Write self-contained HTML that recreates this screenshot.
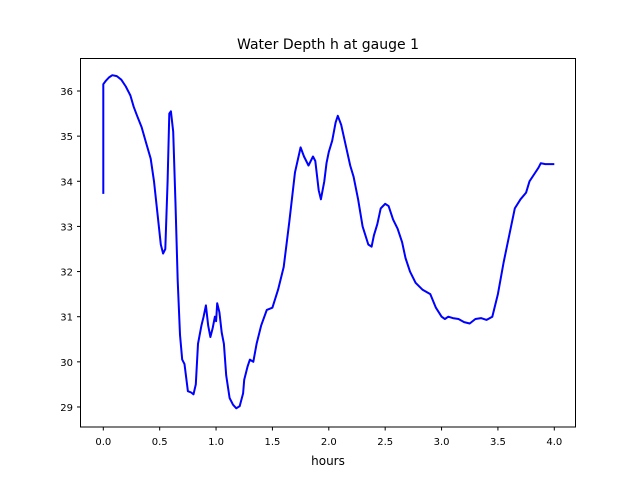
<!DOCTYPE html>
<html><head><meta charset="utf-8"><style>
body{margin:0;background:#fff}
svg{display:block;font-family:"DejaVu Sans","Liberation Sans",sans-serif}
</style></head><body>
<svg id="chart" width="640" height="480">
<rect x="0" y="0" width="640" height="480" fill="#fff"/>
<text x="328" y="49" text-anchor="middle" font-size="14">Water Depth h at gauge 1</text>
<g id="plot"></g>
<rect x="80.5" y="58.5" width="495" height="368.5" fill="none" stroke="#000" stroke-width="1"/>
<text x="328" y="465" text-anchor="middle" font-size="12">hours</text>
</svg>
<script>
const hours=[0,0,0.02,0.05,0.08,0.12,0.16,0.2,0.24,0.27,0.3,0.34,0.38,0.42,0.45,0.48,0.51,0.53,0.55,0.57,0.585,0.6,0.62,0.64,0.66,0.68,0.70,0.72,0.75,0.78,0.80,0.82,0.84,0.87,0.89,0.91,0.93,0.95,0.97,0.99,1.0,1.01,1.03,1.05,1.07,1.09,1.12,1.15,1.18,1.21,1.24,1.25,1.28,1.30,1.33,1.36,1.4,1.45,1.5,1.55,1.6,1.65,1.7,1.75,1.78,1.82,1.86,1.88,1.91,1.93,1.96,1.98,2.0,2.03,2.06,2.08,2.11,2.15,2.19,2.22,2.26,2.3,2.35,2.38,2.4,2.43,2.46,2.5,2.53,2.57,2.61,2.65,2.68,2.72,2.77,2.83,2.9,2.95,3.0,3.03,3.06,3.1,3.15,3.2,3.25,3.3,3.35,3.4,3.45,3.5,3.55,3.6,3.65,3.7,3.75,3.78,3.82,3.86,3.88,3.92,3.96,4.0];
const depth=[33.72,36.15,36.22,36.3,36.35,36.33,36.25,36.1,35.9,35.65,35.45,35.2,34.85,34.5,34.0,33.3,32.6,32.4,32.5,34.0,35.5,35.55,35.1,33.5,31.8,30.6,30.05,29.95,29.35,29.32,29.28,29.5,30.4,30.8,31.0,31.25,30.8,30.55,30.75,31.0,30.9,31.3,31.1,30.65,30.4,29.7,29.2,29.05,28.97,29.02,29.3,29.6,29.9,30.05,30.0,30.4,30.8,31.15,31.2,31.6,32.1,33.1,34.2,34.75,34.55,34.35,34.55,34.45,33.8,33.6,34.0,34.4,34.65,34.9,35.3,35.45,35.25,34.8,34.35,34.1,33.6,33.0,32.6,32.55,32.8,33.05,33.4,33.5,33.45,33.15,32.95,32.65,32.3,32.0,31.75,31.6,31.5,31.2,31.0,30.95,31.0,30.97,30.95,30.88,30.85,30.95,30.97,30.93,31.0,31.5,32.2,32.8,33.4,33.6,33.75,34.0,34.15,34.3,34.4,34.38,34.38,34.38];
const xTicks=["0.0","0.5","1.0","1.5","2.0","2.5","3.0","3.5","4.0"];
const yTicks=["29","30","31","32","33","34","35","36"];
const NS="http://www.w3.org/2000/svg";
const sx=v=>103.3+v*112.75;
const sy=v=>91-(v-36)*45.14;
const g=document.getElementById('plot');
xTicks.forEach(t=>{
  const x=sx(parseFloat(t));
  const l=document.createElementNS(NS,'line');
  l.setAttribute('x1',x);l.setAttribute('x2',x);l.setAttribute('y1',427);l.setAttribute('y2',430.5);l.setAttribute('stroke','#000');
  
  
  g.appendChild(l);
  const tx=document.createElementNS(NS,'text');
  tx.setAttribute('x',x);tx.setAttribute('y',445);tx.setAttribute('text-anchor','middle');tx.setAttribute('font-size','10');
  tx.textContent=t;
  
  
  g.appendChild(tx);
});
yTicks.forEach(t=>{
  const y=sy(parseFloat(t));
  const l=document.createElementNS(NS,'line');
  l.setAttribute('x1',77);l.setAttribute('x2',80.5);l.setAttribute('y1',y);l.setAttribute('y2',y);l.setAttribute('stroke','#000');
  
  
  g.appendChild(l);
  const tx=document.createElementNS(NS,'text');
  tx.setAttribute('x',73);tx.setAttribute('y',y+4);tx.setAttribute('text-anchor','end');tx.setAttribute('font-size','10');
  tx.textContent=t;
  
  
  g.appendChild(tx);
});
const p=document.createElementNS(NS,'polyline');
p.setAttribute('points',hours.map((h,i)=>sx(h).toFixed(1)+','+sy(depth[i]).toFixed(1)).join(' '));
p.setAttribute('fill','none');p.setAttribute('stroke','#0000ff');p.setAttribute('stroke-width','2');p.setAttribute('stroke-linejoin','round');


g.appendChild(p);
</script>
</body></html>
